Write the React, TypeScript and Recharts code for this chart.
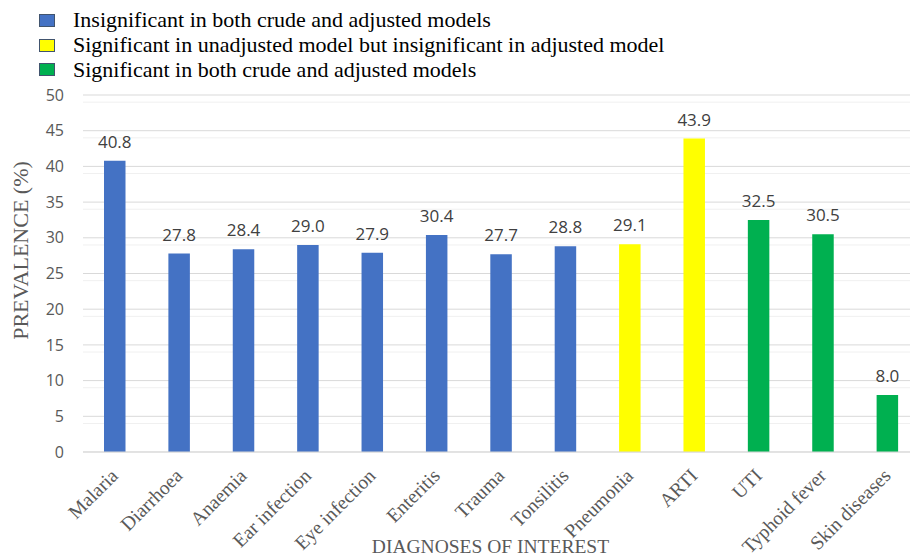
import React from "react";
import { BarChart, Bar, Cell, XAxis, YAxis, CartesianGrid, LabelList } from "recharts";

// data
const DIAGNOSES = [
  "Malaria",
  "Diarrhoea",
  "Anaemia",
  "Ear infection",
  "Eye infection",
  "Enteritis",
  "Trauma",
  "Tonsilitis",
  "Pneumonia",
  "ARTI",
  "UTI",
  "Typhoid fever",
  "Skin diseases",
];
const PREVALENCE = [40.8, 27.8, 28.4, 29.0, 27.9, 30.4, 27.7, 28.8, 29.1, 43.9, 32.5, 30.5, 8.0];
// 0 = insignificant both, 1 = significant only unadjusted, 2 = significant both
const GROUP = [0, 0, 0, 0, 0, 0, 0, 0, 1, 1, 2, 2, 2];

const GROUP_LABELS = [
  "Insignificant in both crude and adjusted models",
  "Significant in unadjusted model but insignificant in adjusted model",
  "Significant in both crude and adjusted models",
];
const GROUP_COLORS = ["#4472C4", "#FFFF00", "#00B050"];

const Y_TICKS = [0, 5, 10, 15, 20, 25, 30, 35, 40, 45, 50];
const MINOR_TICKS = Array.from({ length: 51 }, (_, i) => i).filter((v) => v % 5 !== 0);

const data = DIAGNOSES.map((name, i) => ({
  name,
  value: PREVALENCE[i],
  group: GROUP[i],
}));

const SANS = "'Open Sans', 'Liberation Sans', sans-serif";
const SERIF = "'Liberation Serif', 'DejaVu Serif', serif";

function DiagnosisTick({ x, y, payload }: { x?: number; y?: number; payload?: { value: string } }) {
  return (
    <g transform={`translate(${(x ?? 0) + 4},${(y ?? 0) + 17})`}>
      <text
        transform="rotate(-45)"
        textAnchor="end"
        fill="#595959"
        fontFamily={SERIF}
        fontSize={19.5}
      >
        {payload?.value}
      </text>
    </g>
  );
}

function GroupLegend() {
  return (
    <div style={{ position: "absolute", left: 39, top: 8, fontFamily: SERIF, fontSize: 22, color: "#000" }}>
      {GROUP_LABELS.map((label, i) => (
        <div key={label} style={{ display: "flex", alignItems: "center", height: 24.7, whiteSpace: "nowrap" }}>
          <span
            style={{
              display: "inline-block",
              width: 14,
              height: 11,
              background: GROUP_COLORS[i],
              border: "1px solid #41546e",
              marginRight: 18,
            }}
          />
          {label}
        </div>
      ))}
    </div>
  );
}

export default function App() {
  return (
    <div style={{ position: "relative", width: 910, height: 558, overflow: "hidden", background: "#fff" }}>
      <style>{`body { margin: 0; }`}</style>
      <BarChart width={920} height={558} data={data} margin={{ top: 95, right: 0, bottom: 0, left: 0 }}>
        <CartesianGrid vertical={false} stroke="#f0f0f0" horizontalValues={MINOR_TICKS} />
        <CartesianGrid vertical={false} stroke="#d9d9d9" horizontalValues={Y_TICKS} />
        <XAxis
          dataKey="name"
          interval={0}
          height={106}
          tickLine={false}
          axisLine={{ stroke: "#d9d9d9" }}
          tick={<DiagnosisTick />}
          label={{
            content: ({ viewBox }: any) => (
              <text
                x={viewBox.x + viewBox.width / 2 - 11}
                y={viewBox.y + viewBox.height - 5}
                textAnchor="middle"
                fill="#595959"
                fontFamily={SERIF}
                fontSize={19.5}
              >
                DIAGNOSES OF INTEREST
              </text>
            ),
          }}
        />
        <YAxis
          width={83}
          domain={[0, 50]}
          ticks={Y_TICKS}
          tickLine={false}
          axisLine={false}
          tickMargin={13}
          tick={{ fill: "#595959", fontFamily: SANS, fontSize: 16 }}
          label={{
            content: ({ viewBox }: any) => {
              const cy = viewBox.y + viewBox.height / 2 - 23;
              return (
                <text
                  x={20}
                  y={cy}
                  transform={`rotate(-90, 20, ${cy})`}
                  textAnchor="middle"
                  dominantBaseline="central"
                  fill="#595959"
                  fontFamily={SERIF}
                  fontSize={22}
                >
                  PREVALENCE (%)
                </text>
              );
            },
          }}
        />
        <Bar dataKey="value" barSize={21.5} isAnimationActive={false}>
          {data.map((d) => (
            <Cell key={d.name} fill={GROUP_COLORS[d.group]} />
          ))}
          <LabelList
            dataKey="value"
            position="top"
            offset={13}
            formatter={(v: any) => Number(v).toFixed(1)}
            fill="#404040"
            fontFamily={SANS}
            fontSize={17}
          />
        </Bar>
      </BarChart>
      <GroupLegend />
    </div>
  );
}
